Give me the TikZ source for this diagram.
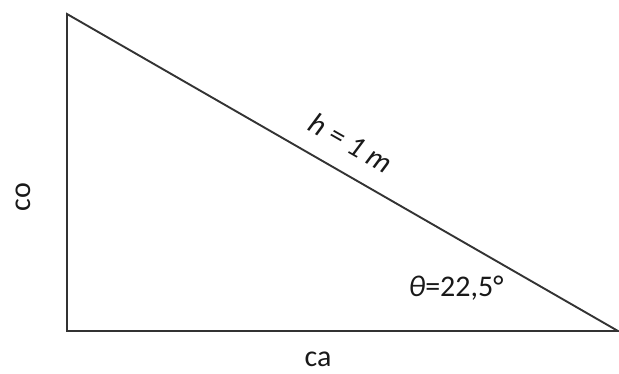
\documentclass[tikz,border=0pt]{standalone}
\usepackage{fontspec}
\setmainfont{Carlito}
\usetikzlibrary{positioning}

\tikzset{
  side/.style={line width=1.9pt, draw=black!80, line join=miter},
  lbl/.style={font=\fontsize{30}{35}\selectfont, inner sep=0pt, text=black!90}
}

\begin{document}
\begin{tikzpicture}[x=1pt,y=-1pt]
  \useasboundingbox (0,0) rectangle (619,373);
  % corners
  \coordinate (top) at (67,14);
  \coordinate (rightangle) at (67,331);
  \coordinate (tip) at (618,331);
  \draw[side] (top) -- (rightangle) -- (tip) -- cycle;
  % labels
  \node[lbl, rotate=90] (co) at (23,197) {co};
  \node[lbl] (ca) at (318,359) {ca};
  \node[lbl, rotate=-29.8] (hyp) at (351,143) {\itshape h = 1 m};
  \node[lbl] (angle) at (456,288) {\textit{θ}=22,5°};
\end{tikzpicture}
\end{document}
